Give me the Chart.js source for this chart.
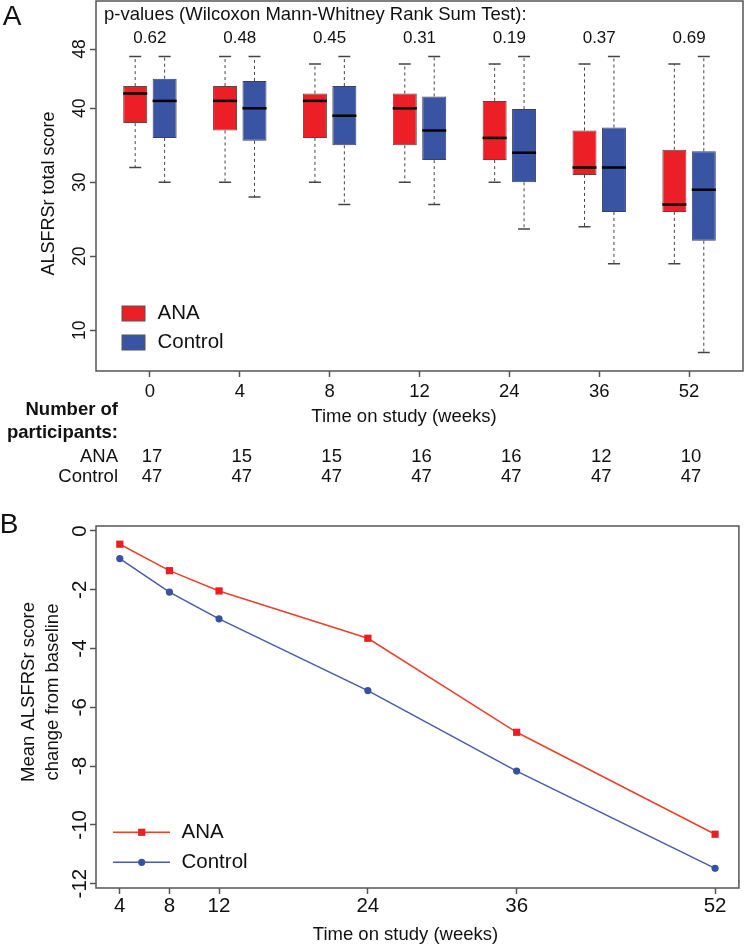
<!DOCTYPE html>
<html><head><meta charset="utf-8">
<script src="https://cdn.jsdelivr.net/npm/chart.js@4.4.1/dist/chart.umd.min.js"></script>
<style>
html,body{margin:0;padding:0;background:#fff;}
body{width:744px;height:946px;position:relative;overflow:hidden;}
#a{position:absolute;left:0;top:0;}
#b{position:absolute;left:0;top:500px;}
</style></head><body>
<canvas id="a" width="744" height="500"></canvas>
<canvas id="b" width="744" height="446"></canvas>
<script>
// ---------- Panel A data ----------
const weeks = ['0','4','8','12','24','36','52'];
const pValues = ['0.62','0.48','0.45','0.31','0.19','0.37','0.69'];
const anaMin = [32, 30, 30, 30, 30, 24, 19];
const anaQ1  = [38, 37, 36, 35, 33, 31, 26];
const anaMed = [42, 41, 41, 40, 36, 32, 27];
const anaQ3  = [43, 43, 42, 42, 41, 37, 34.4];
const anaMax = [47, 47, 46, 46, 46, 46, 46];
const ctlMin = [30, 28, 27, 27, 23.7, 19, 7];
const ctlQ1  = [36, 35.6, 35, 33, 30, 26, 22.1];
const ctlMed = [41, 40, 39, 37, 34, 32, 29];
const ctlQ3  = [44, 43.7, 43, 41.6, 39.9, 37.4, 34.2];
const ctlMax = [47, 47, 47, 47, 47, 47, 47];
const nANA     = [17, 15, 15, 16, 16, 12, 10];
const nControl = [47, 47, 47, 47, 47, 47, 47];
const yTicksA = [10, 20, 30, 40, 48];

// ---------- Panel B data ----------
const changeWeeks = [4, 8, 12, 24, 36, 52];
const anaChange = [-0.45, -1.35, -2.04, -3.65, -6.85, -10.32];
const ctlChange = [-0.94, -2.08, -2.99, -5.43, -8.17, -11.48];
const yTicksB = [0, -2, -4, -6, -8, -10, -12];

const FONT = '"Liberation Sans", Arial, Helvetica, sans-serif';
Chart.defaults.font.family = FONT;
const RED = '#ec1f26', BLUE = '#3a54a4', FRAME = '#555';
const positions = weeks.map((w, i) => i + 1);

function font(size, bold) { return (bold ? 'bold ' : '') + size + 'px ' + FONT; }
function rotText(ctx, text, x, y, size) {
  ctx.save(); ctx.translate(x, y); ctx.rotate(-Math.PI / 2);
  ctx.font = font(size); ctx.textAlign = 'center'; ctx.textBaseline = 'middle';
  ctx.fillText(text, 0, 0); ctx.restore();
}
function text(ctx, t, x, y, size, align, bold) {
  ctx.font = font(size, bold); ctx.textAlign = align || 'center'; ctx.textBaseline = 'middle';
  ctx.fillText(t, x, y);
}

const boxPlugin = {
  id: 'boxWhiskers',
  afterDatasetsDraw(chart) {
    const ctx = chart.ctx, ys = chart.scales.y;
    chart.data.datasets.forEach((ds, d) => {
      const meta = chart.getDatasetMeta(d);
      meta.data.forEach((bar, i) => {
        const x = bar.x, half = bar.width / 2;
        const pMin = ys.getPixelForValue(ds.stats.min[i]);
        const pMax = ys.getPixelForValue(ds.stats.max[i]);
        const pQ1 = ys.getPixelForValue(ds.data[i].y[0]);
        const pQ3 = ys.getPixelForValue(ds.data[i].y[1]);
        const pMed = ys.getPixelForValue(ds.stats.med[i]);
        ctx.save();
        ctx.strokeStyle = '#444'; ctx.lineWidth = 1; ctx.setLineDash([3, 3]);
        ctx.beginPath();
        ctx.moveTo(x, pQ3); ctx.lineTo(x, pMax);
        ctx.moveTo(x, pQ1); ctx.lineTo(x, pMin);
        ctx.stroke();
        ctx.setLineDash([]); ctx.lineWidth = 1.5;
        ctx.beginPath();
        ctx.moveTo(x - 6, pMax); ctx.lineTo(x + 6, pMax);
        ctx.moveTo(x - 6, pMin); ctx.lineTo(x + 6, pMin);
        ctx.stroke();
        ctx.strokeStyle = '#000'; ctx.lineWidth = 2.5;
        ctx.beginPath(); ctx.moveTo(x - half, pMed); ctx.lineTo(x + half, pMed); ctx.stroke();
        ctx.restore();
      });
    });
  },
  afterDraw(chart) {
    const ctx = chart.ctx, a = chart.chartArea, xs = chart.scales.x, ys = chart.scales.y;
    ctx.save();
    ctx.strokeStyle = FRAME; ctx.lineWidth = 1.5;
    ctx.strokeRect(a.left, a.top, a.right - a.left, a.bottom - a.top);
    ctx.fillStyle = '#111';
    ys.ticks.forEach(t => rotText(ctx, String(t.value), 80, ys.getPixelForValue(t.value), 17.5));
    rotText(ctx, 'ALSFRSr total score', 49.5, 193.5, 18);
    text(ctx, 'A', 12, 17, 28);
    text(ctx, 'p-values (Wilcoxon Mann-Whitney Rank Sum Test):', 104, 15, 18.5, 'left');
    positions.forEach((p, i) => text(ctx, pValues[i], xs.getPixelForValue(p), 38, 17));
    // legend
    chart.data.datasets.forEach((ds, d) => {
      const yy = 313.5 + d * 29;
      ctx.fillStyle = ds.backgroundColor; ctx.fillRect(122, yy - 7.5, 23, 15);
      ctx.strokeStyle = '#555'; ctx.lineWidth = 1; ctx.strokeRect(122, yy - 7.5, 23, 15);
      ctx.fillStyle = '#111'; text(ctx, ds.label, 157.5, yy, 20.5, 'left');
    });
    // table below
    text(ctx, 'Time on study (weeks)', 404, 417, 18.5);
    text(ctx, 'Number of', 118, 410, 18.5, 'right', true);
    text(ctx, 'participants:', 118, 433, 18.5, 'right', true);
    text(ctx, 'ANA', 118, 457, 18.5, 'right');
    text(ctx, 'Control', 118, 477, 18.5, 'right');
    positions.forEach((p, i) => {
      const px = xs.getPixelForValue(p) + 2;
      text(ctx, String(nANA[i]), px, 457, 18.5);
      text(ctx, String(nControl[i]), px, 477, 18.5);
    });
    ctx.restore();
  }
};

function boxData(q1, q3) { return positions.map((p, i) => ({ x: p, y: [q1[i], q3[i]] })); }

new Chart(document.getElementById('a'), {
  type: 'bar',
  data: { datasets: [
    { label: 'ANA', data: boxData(anaQ1, anaQ3), backgroundColor: RED, borderColor: '#6b4040',
      borderWidth: 1, borderSkipped: false, categoryPercentage: 0.655, barPercentage: 0.816,
      stats: { min: anaMin, med: anaMed, max: anaMax } },
    { label: 'Control', data: boxData(ctlQ1, ctlQ3), backgroundColor: BLUE, borderColor: '#3c4060',
      borderWidth: 1, borderSkipped: false, categoryPercentage: 0.655, barPercentage: 0.816,
      stats: { min: ctlMin, med: ctlMed, max: ctlMax } }
  ] },
  options: {
    responsive: false, animation: false, devicePixelRatio: 1,
    layout: { padding: { top: 1, right: 1, left: 0, bottom: 0 } },
    plugins: { legend: { display: false }, tooltip: { enabled: false } },
    scales: {
      x: {
        type: 'linear', min: 0.4, max: 7.6, offset: false,
        afterBuildTicks: s => { s.ticks = positions.map(v => ({ value: v })); },
        afterFit: s => { s.height = 129; },
        grid: { offset: false, drawOnChartArea: false, drawTicks: true, tickLength: 6, tickColor: FRAME, tickWidth: 1.5 },
        border: { display: false },
        ticks: { padding: 4, color: '#111', font: { size: 18.5 }, maxRotation: 0, autoSkip: false,
          callback: v => weeks[Math.round(v) - 1] ?? '' }
      },
      y: {
        type: 'linear', min: 4.5, max: 54.5,
        afterBuildTicks: s => { s.ticks = yTicksA.map(v => ({ value: v })); },
        afterFit: s => { s.width = 96; },
        grid: { drawOnChartArea: false, drawTicks: true, tickLength: 6, tickColor: FRAME, tickWidth: 1.5 },
        border: { display: false },
        ticks: { display: false }
      }
    }
  },
  plugins: [boxPlugin]
});

// ---------- Panel B ----------
const linePlugin = {
  id: 'lineDecor',
  afterDraw(chart) {
    const ctx = chart.ctx, a = chart.chartArea, ys = chart.scales.y;
    ctx.save();
    ctx.strokeStyle = FRAME; ctx.lineWidth = 1.5;
    ctx.strokeRect(a.left, a.top, a.right - a.left, a.bottom - a.top);
    ctx.fillStyle = '#111';
    ys.ticks.forEach(t => rotText(ctx, String(t.value), 80, ys.getPixelForValue(t.value), 20.5));
    rotText(ctx, 'Mean ALSFRSr score', 28.5, 192, 18.5);
    rotText(ctx, 'change from baseline', 53, 192, 18.5);
    text(ctx, 'B', 9, 25, 28);
    text(ctx, 'Time on study (weeks)', 405.5, 435, 18.5);
    // legend
    chart.data.datasets.forEach((ds, d) => {
      const yy = 332.3 + d * 30;
      ctx.strokeStyle = ds.borderColor; ctx.lineWidth = 1.5;
      ctx.beginPath(); ctx.moveTo(113, yy); ctx.lineTo(170, yy); ctx.stroke();
      ctx.fillStyle = ds.pointBackgroundColor;
      if (ds.pointStyle === 'rect') { ctx.fillRect(141.7 - 3.6, yy - 3.6, 7.2, 7.2); }
      else { ctx.beginPath(); ctx.arc(141.7, yy, 3.6, 0, Math.PI * 2); ctx.fill(); }
      ctx.fillStyle = '#111'; text(ctx, ds.label, 181.5, yy, 20.5, 'left');
    });
    ctx.restore();
  }
};

new Chart(document.getElementById('b'), {
  type: 'line',
  data: { datasets: [
    { label: 'ANA', data: changeWeeks.map((w, i) => ({ x: w, y: anaChange[i] })),
      borderColor: '#e8412c', borderWidth: 1.5, pointStyle: 'rect', pointRadius: 5.1,
      pointBackgroundColor: '#ee1c24', pointBorderWidth: 0, tension: 0, fill: false },
    { label: 'Control', data: changeWeeks.map((w, i) => ({ x: w, y: ctlChange[i] })),
      borderColor: '#4a5aa8', borderWidth: 1.5, pointStyle: 'circle', pointRadius: 3.6,
      pointBackgroundColor: '#3a50a0', pointBorderWidth: 0, tension: 0, fill: false }
  ] },
  options: {
    responsive: false, animation: false, devicePixelRatio: 1,
    layout: { padding: { top: 26, right: 1, left: 0, bottom: 0 } },
    plugins: { legend: { display: false }, tooltip: { enabled: false } },
    scales: {
      x: {
        type: 'linear', min: 2.08, max: 53.92,
        afterBuildTicks: s => { s.ticks = changeWeeks.map(v => ({ value: v })); },
        afterFit: s => { s.height = 58; },
        grid: { drawOnChartArea: false, drawTicks: true, tickLength: 6, tickColor: FRAME, tickWidth: 1.5 },
        border: { display: false },
        ticks: { padding: 0, color: '#111', font: { size: 20.5 }, maxRotation: 0, autoSkip: false,
          callback: v => String(v) }
      },
      y: {
        type: 'linear', min: -12.15, max: 0.17,
        afterBuildTicks: s => { s.ticks = yTicksB.map(v => ({ value: v })); },
        afterFit: s => { s.width = 96; },
        grid: { drawOnChartArea: false, drawTicks: true, tickLength: 6, tickColor: FRAME, tickWidth: 1.5 },
        border: { display: false },
        ticks: { display: false }
      }
    }
  },
  plugins: [linePlugin]
});
</script>
</body></html>
